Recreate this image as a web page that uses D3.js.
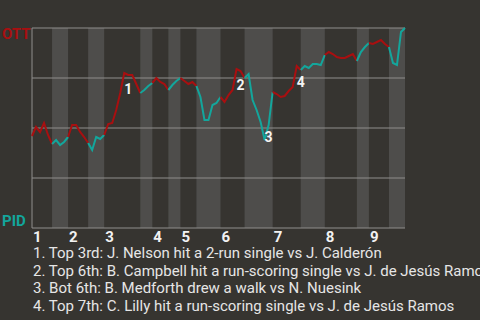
<!DOCTYPE html>
<html>
<head>
<meta charset="utf-8">
<script src="https://cdn.jsdelivr.net/npm/d3@7"></script>
<style>
    body { margin: 0; background: #363430; }
    #WinProb { width: 480px; height: 320px; }
    text { font-family: Roboto, "Noto Sans", sans-serif; }
</style>
</head>
<body>
<div id="WinProb"></div>
<script>
// DATA
const teams = ["OTT", "PID"];
const innings = ["1", "2", "3", "4", "5", "6", "7", "8", "9"];
const startWP = 46;
// OTT win probability after each play, one array per half inning (top, bottom, top, ...)
const halfWP = [
    [50.5, 48, 52.5, 46.5, 42],
    [44, 41.5, 43, 45.5],
    [51.5, 51.5, 48, 45.5, 42.5],
    [39, 45.5, 44.5, 46.5],
    [52, 52.5, 59, 67.5, 77.5, 76.5, 76.5, 72, 67.5],
    [69, 71, 72.5],
    [75, 73, 72, 69],
    [71.5, 73.5, 75],
    [73.5, 72, 73, 71],
    [65.5, 54, 54, 61.5, 62.5, 65.5],
    [63, 66.5, 69, 79.5, 78.5, 75],
    [77, 64, 59, 53, 44, 51.5, 68],
    [67, 65.5, 66, 68.5, 70.5, 81, 79],
    [81, 80, 82, 82, 81.5, 86.5],
    [88, 87, 85.5, 85, 85, 86, 87, 83.5],
    [88, 90.5, 92.5],
    [92, 93, 94, 92, 90.5],
    [82.5, 81.5, 98, 100]
];
const keyPlays = [23, 51, 58, 66];
const keyTop = [true, true, false, true];
const keyText = [
    "1. Top 3rd: J. Nelson hit a 2-run single vs J. Calderón",
    "2. Top 6th: B. Campbell hit a run-scoring single vs J. de Jesús Ramos",
    "3. Bot 6th: B. Medforth drew a walk vs N. Nuesink",
    "4. Top 7th: C. Lilly hit a run-scoring single vs J. de Jesús Ramos"
];

const red = "#a80f10";
const teal = "#13a69c";

class WinProb {
    constructor() {
        this.w = 480;
        this.h = 320;
        this.margin = { top: 28, right: 75, bottom: 92, left: 32 };

        // build flat list of points with half inning index
        this.points = [{ i: 0, v: startWP, half: 0 }];
        this.halfStart = [];
        let n = 0;
        halfWP.forEach((arr, h) => {
            this.halfStart.push(n);
            arr.forEach((v) => { n++; this.points.push({ i: n, v: v, half: h }); });
        });
        this.halfStart.push(n);

        this.svg = d3.select("#WinProb").append("svg")
            .attr("width", this.w)
            .attr("height", this.h);

        // SCALES
        this.x = d3.scaleLinear()
            .domain([0, n])
            .range([this.margin.left, this.w - this.margin.right]);

        this.y = d3.scaleLinear()
            .domain([0, 100])
            .range([this.h - this.margin.bottom, this.margin.top]);

        // bottom half bands
        this.svg.append("g").selectAll("rect")
            .data(halfWP.map((d, h) => h).filter((h) => h % 2 == 1))
            .enter().append("rect")
            .attr("x", (h) => this.x(this.halfStart[h]))
            .attr("width", (h) => this.x(this.halfStart[h + 1]) - this.x(this.halfStart[h]))
            .attr("y", this.y(100))
            .attr("height", this.y(0) - this.y(100))
            .attr("fill", "#4e4d4b");

        // GRID
        this.svg.append("g").selectAll("line")
            .data([0, 25, 50, 75, 100])
            .enter().append("line")
            .attr("x1", this.x(0)).attr("x2", this.x(n))
            .attr("y1", (d) => this.y(d)).attr("y2", (d) => this.y(d))
            .attr("stroke", "#8f8e8c")
            .attr("stroke-width", 1);

        this.svg.append("line")
            .attr("x1", this.x(0)).attr("x2", this.x(0))
            .attr("y1", this.y(0)).attr("y2", this.y(100))
            .attr("stroke", "#8f8e8c");

        // AXES LABELS
        this.svg.append("g").selectAll("text")
            .data(innings)
            .enter().append("text")
            .text((d) => d)
            .attr("x", (d, i) => this.x(this.halfStart[i * 2]) + 1)
            .attr("y", 242)
            .attr("fill", "#f2f2f2")
            .style("font-size", "15px")
            .style("font-weight", "bold");

        this.svg.append("text")
            .text(teams[0])
            .attr("x", 2).attr("y", 39)
            .attr("fill", red)
            .style("font-size", "15px")
            .style("font-weight", "bold");

        this.svg.append("text")
            .text(teams[1])
            .attr("x", 2).attr("y", 226)
            .attr("fill", teal)
            .style("font-size", "15px")
            .style("font-weight", "bold");

        // LINES one path per half inning
        this.line = d3.line()
            .x((d) => this.x(d.i))
            .y((d) => this.y(d.v));

        this.svg.append("g").selectAll("path")
            .data(halfWP.map((d, h) => this.points.slice(this.halfStart[h], this.halfStart[h + 1] + 1)))
            .enter().append("path")
            .attr("d", (d) => this.line(d))
            .attr("fill", "none")
            .attr("stroke", (d, h) => h % 2 == 0 ? red : teal)
            .attr("stroke-width", 2);

        // key play markers
        this.svg.append("g").selectAll("text")
            .data(keyPlays)
            .enter().append("text")
            .text((d, i) => i + 1)
            .attr("x", (d) => this.x(d))
            .attr("y", (d, i) => this.y(this.points[d].v) + (keyTop[i] ? 21 : 2))
            .attr("fill", "#f4f4f4")
            .style("font-size", "14px")
            .style("font-weight", "bold");

        // key play descriptions
        this.svg.append("g").selectAll("text")
            .data(keyText)
            .enter().append("text")
            .text((d) => d)
            .attr("x", 33)
            .attr("y", (d, i) => 258 + i * 17.6)
            .attr("fill", "#e6e6e6")
            .style("font-size", "15px");
    }
}

new WinProb();
</script>
</body>
</html>
